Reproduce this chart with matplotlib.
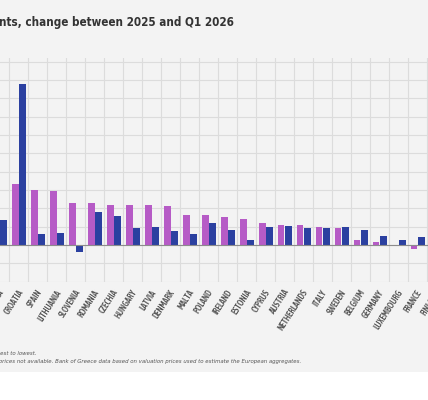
import matplotlib
matplotlib.use("Agg")
import matplotlib.pyplot as plt
import matplotlib.transforms as mtransforms
from matplotlib import font_manager
from matplotlib.font_manager import FontProperties
from matplotlib.patches import Rectangle
import numpy as np

# values in % (first group and FINLAND are mostly off-canvas)
countries = ["BULGARIA", "CROATIA", "SPAIN", "LITHUANIA", "SLOVENIA", "ROMANIA",
             "CZECHIA", "HUNGARY", "LATVIA", "DENMARK", "MALTA", "POLAND",
             "IRELAND", "ESTONIA", "CYPRUS", "AUSTRIA", "NETHERLANDS", "ITALY",
             "SWEDEN", "BELGIUM", "GERMANY", "LUXEMBOURG", "FRANCE", "FINLAND"]
prices = [7.0, 6.7, 6.0, 5.9, 4.6, 4.6, 4.4, 4.4, 4.4, 4.3, 3.3, 3.3,
          3.1, 2.8, 2.4, 2.2, 2.2, 2.0, 1.9, 0.5, 0.36, 0.0, -0.44, -0.6]
rents = [2.7, 17.6, 1.2, 1.3, -0.8, 3.6, 3.2, 1.9, 2.0, 1.5, 1.2, 2.4,
         1.6, 0.5, 2.0, 2.1, 1.9, 1.9, 2.0, 1.6, 1.0, 0.6, 0.9, 0.5]


def wnum(w):
    if isinstance(w, (int, float)):
        return int(w)
    return font_manager.weight_dict.get(w, 400)


def is_condensed(f):
    return ("Narrow" in f.name or "Condensed" in f.name
            or f.stretch in ("condensed", "semi-condensed", "extra-condensed"))


def pick_font(target, italic=False):
    # condensed font file closest to the wanted weight, italic if possible
    fonts = [f for f in font_manager.fontManager.ttflist if is_condensed(f)]
    for want_italic in ([True, False] if italic else [False]):
        cands = [f for f in fonts if (f.style in ("italic", "oblique")) == want_italic]
        if cands:
            best = min(cands, key=lambda f: abs(wnum(f.weight) - target))
            return FontProperties(fname=best.fname)
    return FontProperties(family="DejaVu Sans",
                          weight="bold" if target >= 600 else "normal",
                          style="italic" if italic else "normal")


title_fp = pick_font(700)
label_fp = pick_font(560)
note_fp = pick_font(400, italic=True)

W, H = 428, 400
fig = plt.figure(figsize=(W / 100, H / 100), dpi=100, facecolor="white")
bg = "#f3f3f3"
fig.patches.append(Rectangle((0, 28 / H), 1, 1, transform=fig.transFigure,
                             facecolor=bg, edgecolor="none", zorder=-10))

# axes positioned so the left part is cropped like the reference
left_px, right_px = -9.5 - 18.98, 446.0
top_px, bot_px = 58.0, 281.7
ax = fig.add_axes([left_px / W, 1 - bot_px / H, (right_px - left_px) / W, (bot_px - top_px) / H])
ax.set_facecolor(bg)

x = np.arange(len(countries))
w = 0.36
ax.bar(x - 0.19, prices, width=w, color="#b65bc6", zorder=3)
ax.bar(x + 0.19, rents, width=w, color="#2b40a0", zorder=3)

ax.set_xlim(-1.5, len(countries) - 0.5)
ax.set_ylim(-4, 20.4)
ax.set_yticks(np.arange(-4, 21, 2))
ax.set_yticklabels([])
ax.set_xticks(np.arange(-1, len(countries)) + 0.5, minor=True)
ax.grid(True, which="minor", axis="x", color="#dcdcdc", lw=0.8, zorder=0)
ax.grid(True, which="major", axis="y", color="#dcdcdc", lw=0.8, zorder=0)
ax.axhline(0, color="#8c8c8c", lw=0.8, zorder=4)
for s in ax.spines.values():
    s.set_visible(False)
ax.tick_params(which="both", length=0, pad=0)

renderer = fig.canvas.get_renderer()


def fit_size(visible, width_px, fp):
    # font size that makes a text span width_px
    fp = fp.copy()
    fp.set_size(10)
    t = fig.text(0, 0, visible, fontproperties=fp)
    wpx = t.get_window_extent(renderer).width
    t.remove()
    return 10 * width_px / wpx


label_fp.set_size(fit_size("LITHUANIA", 35.5, label_fp))
ax.set_xticks(x)
ax.set_xticklabels(countries, rotation=57, ha="right", va="center",
                   rotation_mode="anchor", color="#555555", fontproperties=label_fp)
offset = mtransforms.ScaledTranslation(2.5 / 100, -9 / 100, fig.dpi_scale_trans)
for lab in ax.get_xticklabels():
    lab.set_transform(lab.get_transform() + offset)

title_fp.set_size(fit_size("nts, change between 2025 and Q1 2026", 234, title_fp))
fig.text(234 / W, 1 - 26 / H, "House prices and rents, change between 2025 and Q1 2026",
         ha="right", va="baseline", color="#333333", fontproperties=title_fp)

note2 = "prices not available. Bank of Greece data based on valuation prices used to estimate the European aggregates."
note_fp.set_size(fit_size(note2, 301, note_fp))
fig.text(37 / W, 1 - 354.5 / H, "Countries ranked from highest to lowest.",
         ha="right", va="baseline", color="#555555", fontproperties=note_fp)
fig.text(301 / W, 1 - 362.5 / H, "* Greece: transaction " + note2,
         ha="right", va="baseline", color="#555555", fontproperties=note_fp)

fig.savefig("out.png", dpi=100, facecolor="white")
